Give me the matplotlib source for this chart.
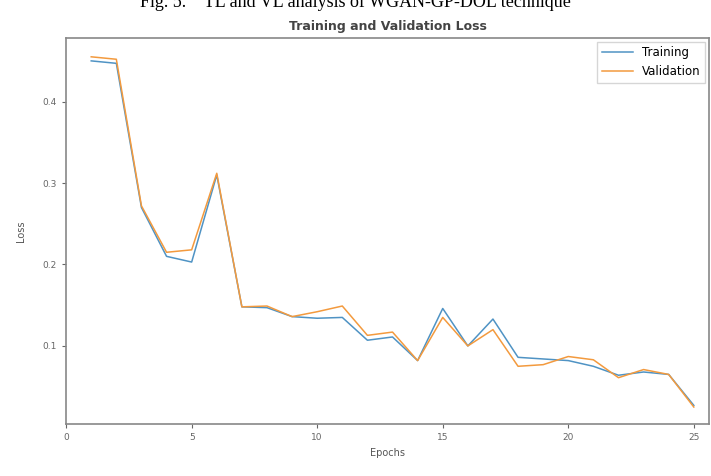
import matplotlib.pyplot as plt

# Loss per epoch
epochs = list(range(1, 26))
train_loss = [0.450, 0.447, 0.270, 0.210, 0.203, 0.310, 0.148, 0.147, 0.136, 0.134,
              0.135, 0.107, 0.111, 0.082, 0.146, 0.100, 0.133, 0.086, 0.084, 0.082,
              0.075, 0.064, 0.068, 0.065, 0.027]
val_loss = [0.455, 0.452, 0.272, 0.215, 0.218, 0.312, 0.148, 0.149, 0.136, 0.142,
            0.149, 0.113, 0.117, 0.082, 0.135, 0.100, 0.120, 0.075, 0.077, 0.087,
            0.083, 0.061, 0.071, 0.065, 0.025]
xticks = [0, 5, 10, 15, 20, 25]
yticks = [0.1, 0.2, 0.3, 0.4]

fig = plt.figure(figsize=(7.11, 4.76), dpi=100)
ax = fig.add_axes([0.093, 0.109, 0.904, 0.811])

ax.plot(epochs, train_loss, color='#4f93c4', lw=1.1, label='Training')
ax.plot(epochs, val_loss, color='#f39a3e', lw=1.1, label='Validation')

ax.set_xlim(0, 25.6)
ax.set_ylim(0.004, 0.478)
ax.set_xticks(xticks)
ax.set_yticks(yticks)
ax.tick_params(labelsize=6.5, colors='#666666', length=3, width=0.8)
for s in ax.spines.values():
    s.set_color('#888888')
    s.set_linewidth(1.2)

ax.set_xlabel('Epochs', fontsize=7, color='#555555')
ax.set_ylabel('Loss', fontsize=7, color='#555555', labelpad=12)
ax.set_title('Training and Validation Loss', fontsize=9, fontweight='bold',
             color='#444444', pad=6)
leg = ax.legend(loc='upper right', fontsize=8.5, frameon=True, fancybox=False,
                handlelength=2.6, borderaxespad=0.3)
leg.get_frame().set_edgecolor('#cccccc')

# figure caption, cut off at the top edge like in the source
fig.text(0.5, 0.995, 'Fig. 5.    TL and VL analysis of WGAN-GP-DOL technique',
         ha='center', va='center', fontsize=13, family='Liberation Serif')

fig.savefig('out.png', dpi=100)
